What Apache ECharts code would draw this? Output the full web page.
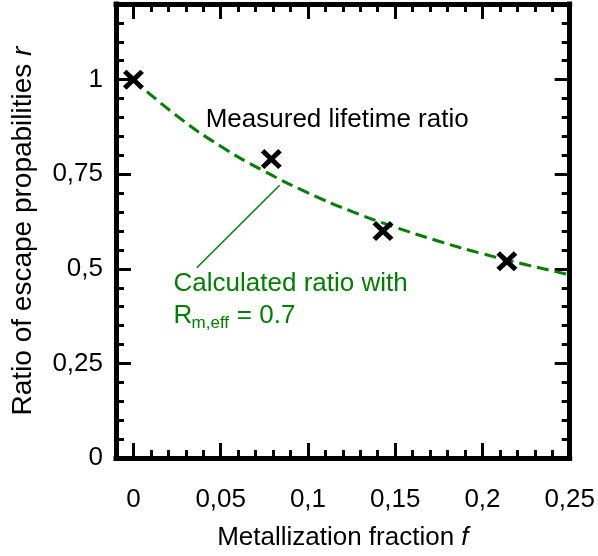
<!DOCTYPE html>
<html>
<head>
<meta charset="utf-8">
<script src="https://cdn.jsdelivr.net/npm/echarts@6/dist/echarts.min.js"></script>
<style>html,body{margin:0;padding:0;background:#fff}#c{width:598px;height:556px}</style>
</head>
<body>
<div id="c"></div>
<script>
// ---- data ----
const fMeasured = [0, 0.079, 0.143, 0.214];
const rMeasured = [1.0, 0.79, 0.60, 0.52];
const fCalc = [0, 0.025, 0.05, 0.075, 0.1, 0.125, 0.15, 0.175, 0.2, 0.225, 0.25];
const rCalc = [1.0, 0.904, 0.824, 0.758, 0.701, 0.652, 0.610, 0.573, 0.540, 0.511, 0.484];
const xMajor = [0, 0.05, 0.1, 0.15, 0.2, 0.25];
const xMinor = [0.01, 0.02, 0.03, 0.04, 0.06, 0.07, 0.08, 0.09, 0.11, 0.12, 0.13, 0.14, 0.16, 0.17, 0.18, 0.19, 0.21, 0.22, 0.23, 0.24];
const yMajor = [0, 0.25, 0.5, 0.75, 1];
const yMinor = [0.05, 0.1, 0.15, 0.2, 0.3, 0.35, 0.4, 0.45, 0.55, 0.6, 0.65, 0.7, 0.8, 0.85, 0.9, 0.95, 1.05, 1.1, 1.15];
const xTitle = 'Metallization fraction ';
const xTitleVar = 'f';
const yTitle = 'Ratio of escape propabilities ';
const yTitleVar = 'r';
const labelMeasured = 'Measured lifetime ratio';
const labelCalc1 = 'Calculated ratio with';
const labelCalcR = 'R';
const labelCalcSub = 'm,eff';
const labelCalcVal = ' = 0.7';
const leader = [[0.0838, 0.721], [0.0363, 0.503]];

const FONT = 'Liberation Sans, Arial, sans-serif';
const GREEN = '#008000';
const FS = 26;
const FSY = 28;
const fmt = v => String(v).replace('.', ',');

const chart = echarts.init(document.getElementById('c'), null, {renderer: 'canvas'});

function xAx(pos, major, withLine, withLabel) {
  return {
    type: 'value', min: -0.01, max: 0.25, position: pos, gridIndex: 0,
    axisLine: {show: withLine, onZero: false, lineStyle: {color: '#000', width: 5, cap: 'square'}},
    axisTick: {show: true, inside: true, length: major ? 15 : 8, customValues: major ? xMajor : xMinor, lineStyle: {color: '#000', width: 3}},
    axisLabel: withLabel ? {show: true, customValues: xMajor, formatter: fmt, margin: 29, color: '#000', fontSize: FS, fontFamily: FONT} : {show: false},
    splitLine: {show: false},
    name: withLabel ? '{a|' + xTitle + '}{i|' + xTitleVar + '}' : '',
    nameLocation: 'middle', nameGap: 67,
    nameTextStyle: {rich: {a: {fontSize: FS, fontFamily: FONT, color: '#000'}, i: {fontSize: FS, fontFamily: FONT, fontStyle: 'italic', color: '#000'}}}
  };
}
function yAx(pos, major, withLine, withLabel) {
  return {
    type: 'value', min: 0, max: 1.2, position: pos, gridIndex: 0,
    axisLine: {show: withLine, onZero: false, lineStyle: {color: '#000', width: 5, cap: 'square'}},
    axisTick: {show: true, inside: true, length: major ? 15 : 8, customValues: major ? yMajor : yMinor, lineStyle: {color: '#000', width: 3}},
    axisLabel: withLabel ? {show: true, customValues: yMajor, formatter: fmt, margin: 13, color: '#000', fontSize: FS, fontFamily: FONT} : {show: false},
    splitLine: {show: false},
    name: withLabel ? '{a|' + yTitle + '}{i|' + yTitleVar + '}' : '',
    nameLocation: 'middle', nameGap: 79,
    nameTextStyle: {rich: {a: {fontSize: FSY, fontFamily: FONT, color: '#000'}, i: {fontSize: FSY, fontFamily: FONT, fontStyle: 'italic', color: '#000'}}}
  };
}

const crossPath = 'path://M1.7,0 L5,3.3 L8.3,0 L10,1.7 L6.7,5 L10,8.3 L8.3,10 L5,6.7 L1.7,10 L0,8.3 L3.3,5 L0,1.7 Z';

const option = {
  animation: false,
  backgroundColor: '#fff',
  grid: {left: 116, top: 4, width: 454, height: 456, containLabel: false},
  xAxis: [xAx('bottom', true, true, true), xAx('bottom', false, false, false), xAx('top', true, true, false), xAx('top', false, false, false)],
  yAxis: [yAx('left', true, true, true), yAx('left', false, false, false), yAx('right', true, true, false), yAx('right', false, false, false)],
  series: [
    {
      type: 'line', xAxisIndex: 0, yAxisIndex: 0,
      data: fCalc.map((f, i) => [f, rCalc[i]]),
      smooth: true, symbol: 'none', z: 2,
      lineStyle: {color: GREEN, width: 3, type: [12, 6]},
      markLine: {
        silent: true, symbol: ['none', 'none'],
        lineStyle: {color: GREEN, width: 1.5, type: 'solid'},
        label: {show: false},
        data: [[{coord: leader[0]}, {coord: leader[1]}]]
      }
    },
    {
      type: 'scatter', xAxisIndex: 0, yAxisIndex: 0,
      data: fMeasured.map((f, i) => [f, rMeasured[i]]),
      symbol: crossPath, symbolSize: [21, 20], z: 5,
      itemStyle: {color: '#000', opacity: 1}
    }
  ]
};
chart.setOption(option);

const P = (x, y) => chart.convertToPixel({xAxisIndex: 0, yAxisIndex: 0}, [x, y]);
const pM = P(0.0414, 0.895);
const pC = P(0.023, 0.4605);
const pR = P(0.023, 0.376);
const txt = (x, y, t, size, color, dy) => ({
  type: 'text', x: x, y: y + (dy || 0), z: 10,
  style: {text: t, fill: color, fontSize: size, fontFamily: FONT, textVerticalAlign: 'middle', verticalAlign: 'middle', textAlign: 'left', align: 'left'}
});
chart.setOption({
  graphic: [
    txt(pM[0], pM[1], labelMeasured, FS, '#000'),
    txt(pC[0], pC[1], labelCalc1, FS, GREEN),
    txt(pR[0], pR[1], labelCalcR, FS, GREEN),
    txt(pR[0] + 18, pR[1], labelCalcSub, 17, GREEN, 8),
    txt(pR[0] + 56, pR[1], labelCalcVal, FS, GREEN)
  ]
});
</script>
</body>
</html>
